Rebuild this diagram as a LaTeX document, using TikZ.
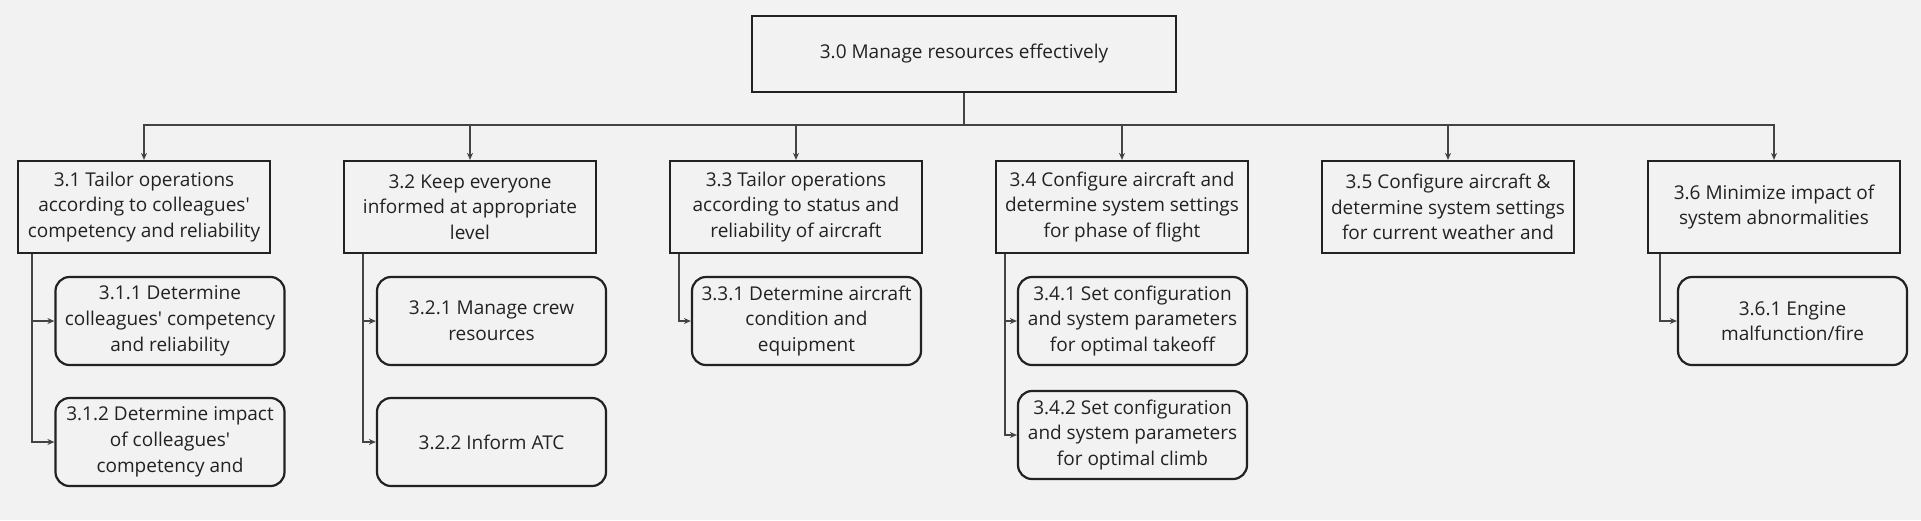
\documentclass[tikz,border=0pt]{standalone}
\usepackage{fontspec}
\setmainfont{Open Sans}
\usetikzlibrary{arrows.meta}
\definecolor{bgcol}{HTML}{F2F2F2}
\definecolor{inkcol}{HTML}{222222}
\definecolor{linkcol}{HTML}{444444}
\newcommand{\q}{\textquotesingle}
\tikzset{
  task/.style={
    draw=inkcol, line width=2.2pt, text=inkcol,
    minimum width=252pt, minimum height=92pt,
    align=center, font=\fontsize{19}{25.7}\selectfont
  },
  subtask/.style={
    task, rounded corners=14pt,
    minimum width=229pt, minimum height=88pt
  },
  link/.style={
    draw=linkcol, line width=1.4pt,
    -{Stealth[length=7pt,width=6pt]}
  }
}
\begin{document}
\begin{tikzpicture}[x=1pt,y=-1pt]
\fill[bgcol] (0,0) rectangle (1921,520);
\useasboundingbox (0,0) rectangle (1921,520);
% top level
\node[task, minimum width=424pt, minimum height=76pt] (t30) at (964,54) {3.0 Manage resources effectively};
\coordinate (bus) at (964,125);
% second level
\node[task] (t31) at (144,207) {3.1 Tailor operations\\according to colleagues\q\\competency and reliability};
\node[task] (t32) at (470,207) {3.2 Keep everyone\\informed at appropriate\\level};
\node[task] (t33) at (796,207) {3.3 Tailor operations\\according to status and\\reliability of aircraft};
\node[task] (t34) at (1122,207) {3.4 Configure aircraft and\\determine system settings\\for phase of flight};
\node[task] (t35) at (1448,207) {3.5 Configure aircraft \&\\determine system settings\\for current weather and};
\node[task] (t36) at (1774,207) {3.6 Minimize impact of\\system abnormalities};
\foreach \t in {t31,t32,t33,t34,t35,t36}
  \draw[link] (t30.south) -- (t30.south |- bus) -| (\t.north);
% third level
\node[subtask] (t311) at (170,321) {3.1.1 Determine\\colleagues\q{} competency\\and reliability};
\node[subtask] (t312) at (170,442) {3.1.2 Determine impact\\of colleagues\q\\competency and};
\node[subtask] (t321) at (491.5,321) {3.2.1 Manage crew\\resources};
\node[subtask] (t322) at (491.5,442) {3.2.2 Inform ATC};
\node[subtask] (t331) at (806.5,321) {3.3.1 Determine aircraft\\condition and\\equipment};
\node[subtask] (t341) at (1132.5,321) {3.4.1 Set configuration\\and system parameters\\for optimal takeoff};
\node[subtask] (t342) at (1132.5,435) {3.4.2 Set configuration\\and system parameters\\for optimal climb};
\node[subtask] (t361) at (1792.5,321) {3.6.1 Engine\\malfunction/fire};
\draw[link] ([xshift=15pt]t31.south west) |- (t311.west);
\draw[link] ([xshift=15pt]t31.south west) |- (t312.west);
\draw[link] ([xshift=20pt]t32.south west) |- (t321.west);
\draw[link] ([xshift=20pt]t32.south west) |- (t322.west);
\draw[link] ([xshift=10pt]t33.south west) |- (t331.west);
\draw[link] ([xshift=10pt]t34.south west) |- (t341.west);
\draw[link] ([xshift=10pt]t34.south west) |- (t342.west);
\draw[link] ([xshift=13pt]t36.south west) |- (t361.west);
\end{tikzpicture}
\end{document}
